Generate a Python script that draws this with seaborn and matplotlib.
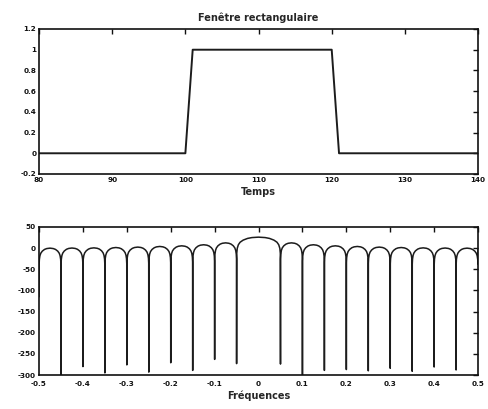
import numpy as np
import pandas as pd
import matplotlib
matplotlib.use("Agg")
import matplotlib.pyplot as plt
import seaborn as sns

# ---------------- data ----------------
# Top: rectangular window (breakpoints of the drawn line)
time_pts = [80, 100, 101, 120, 121, 140]
window_vals = [0, 0, 1, 1, 0, 0]
top_xticks = [80, 90, 100, 110, 120, 130, 140]
top_yticks = [-0.2, 0, 0.2, 0.4, 0.6, 0.8, 1, 1.2]
top_ytick_labels = ["-0.2", "0", "0.2", "0.4", "0.6", "0.8", "1", "1.2"]

# Bottom: spectrum in dB
lobe_edges = [-0.5, -0.45, -0.4, -0.35, -0.3, -0.25, -0.2, -0.15, -0.1, -0.05,
              0.05, 0.1, 0.15, 0.2, 0.25, 0.3, 0.35, 0.4, 0.45, 0.5]
null_depths = [-115, -305, -280, -295, -276, -293, -271, -289, -263, -273,
               -274, -302, -289, -287, -290, -284, -291, -281, -288]
end_value = -1
lobe_peaks = [0, 0.3, 0.7, 1.5, 2.5, 4, 5.5, 8, 12.5, 26,
              12.5, 8, 5.5, 4, 2.5, 1.5, 0.7, 0.3, 0]
# shape of one lobe (position within lobe, level relative to lobe top, dB)
lobe_pos = [0.004, 0.015, 0.04, 0.08, 0.15, 0.25, 0.35, 0.5,
            0.65, 0.75, 0.85, 0.92, 0.96, 0.985, 0.996]
lobe_rel_db = [-38, -26.5, -18, -12, -7, -3, -1, 0,
               -1, -3, -7, -12, -18, -26.5, -38]
bot_xticks = [-0.5, -0.4, -0.3, -0.2, -0.1, 0, 0.1, 0.2, 0.3, 0.4, 0.5]
bot_xtick_labels = ["-0.5", "-0.4", "-0.3", "-0.2", "-0.1", "0", "0.1", "0.2", "0.3", "0.4", "0.5"]
bot_yticks = [-300, -250, -200, -150, -100, -50, 0, 50]
bot_ytick_labels = ["-300", "-250", "-200", "-150", "-100", "-50", "0", "50"]

# assemble spectrum points from the read values
freqs, levels = [], []
for i in range(len(lobe_peaks)):
    a, b = lobe_edges[i], lobe_edges[i + 1]
    freqs.append(a)
    levels.append(null_depths[i])
    for p, r in zip(lobe_pos, lobe_rel_db):
        freqs.append(a + p * (b - a))
        levels.append(lobe_peaks[i] + r)
freqs.append(lobe_edges[-1])
levels.append(end_value)

df_top = pd.DataFrame({"t": time_pts, "w": window_vals})
df_bot = pd.DataFrame({"f": freqs, "db": levels})

# ---------------- style ----------------
sns.set_theme(style="white")
plt.rcParams["font.family"] = ["DejaVu Sans"]
plt.rcParams["font.weight"] = "bold"

fig = plt.figure(figsize=(4.88, 4.09), dpi=100)
ax1 = fig.add_axes([0.08, 0.5746, 0.8996, 0.3545])
ax2 = fig.add_axes([0.08, 0.083, 0.8996, 0.362])

line_col = "#1c1c1c"
sns.lineplot(data=df_top, x="t", y="w", ax=ax1, color=line_col, lw=1.4,
             estimator=None, sort=False)
sns.lineplot(data=df_bot, x="f", y="db", ax=ax2, color=line_col, lw=1.1,
             estimator=None, sort=False)

ax1.set_xlim(80, 140)
ax1.set_ylim(-0.2, 1.2)
ax1.set_xticks(top_xticks)
ax1.set_xticklabels([str(v) for v in top_xticks])
ax1.set_yticks(top_yticks)
ax1.set_yticklabels(top_ytick_labels)
ax1.set_title("Fenêtre rectangulaire", fontsize=7, fontweight="bold", pad=6)
ax1.set_xlabel("Temps", fontsize=7, fontweight="bold", labelpad=3)
ax1.set_ylabel("")

ax2.set_xlim(-0.5, 0.5)
ax2.set_ylim(-300, 50)
ax2.set_xticks(bot_xticks)
ax2.set_xticklabels(bot_xtick_labels)
ax2.set_yticks(bot_yticks)
ax2.set_yticklabels(bot_ytick_labels)
ax2.set_xlabel("Fréquences", fontsize=7, fontweight="bold", labelpad=3)
ax2.set_ylabel("")

for ax in (ax1, ax2):
    for s in ax.spines.values():
        s.set_visible(True)
        s.set_color("#111111")
        s.set_linewidth(1.2)
    ax.tick_params(direction="in", length=3.5, width=1.0, top=True, right=True,
                   labelsize=5.2, pad=2, colors="#111111")
    for lab in ax.get_xticklabels() + ax.get_yticklabels():
        lab.set_fontweight("bold")

ax2.tick_params(axis="x", pad=4)
ax2.tick_params(axis="y", pad=2.5)

fig.savefig("out.png", dpi=100, facecolor="white")
